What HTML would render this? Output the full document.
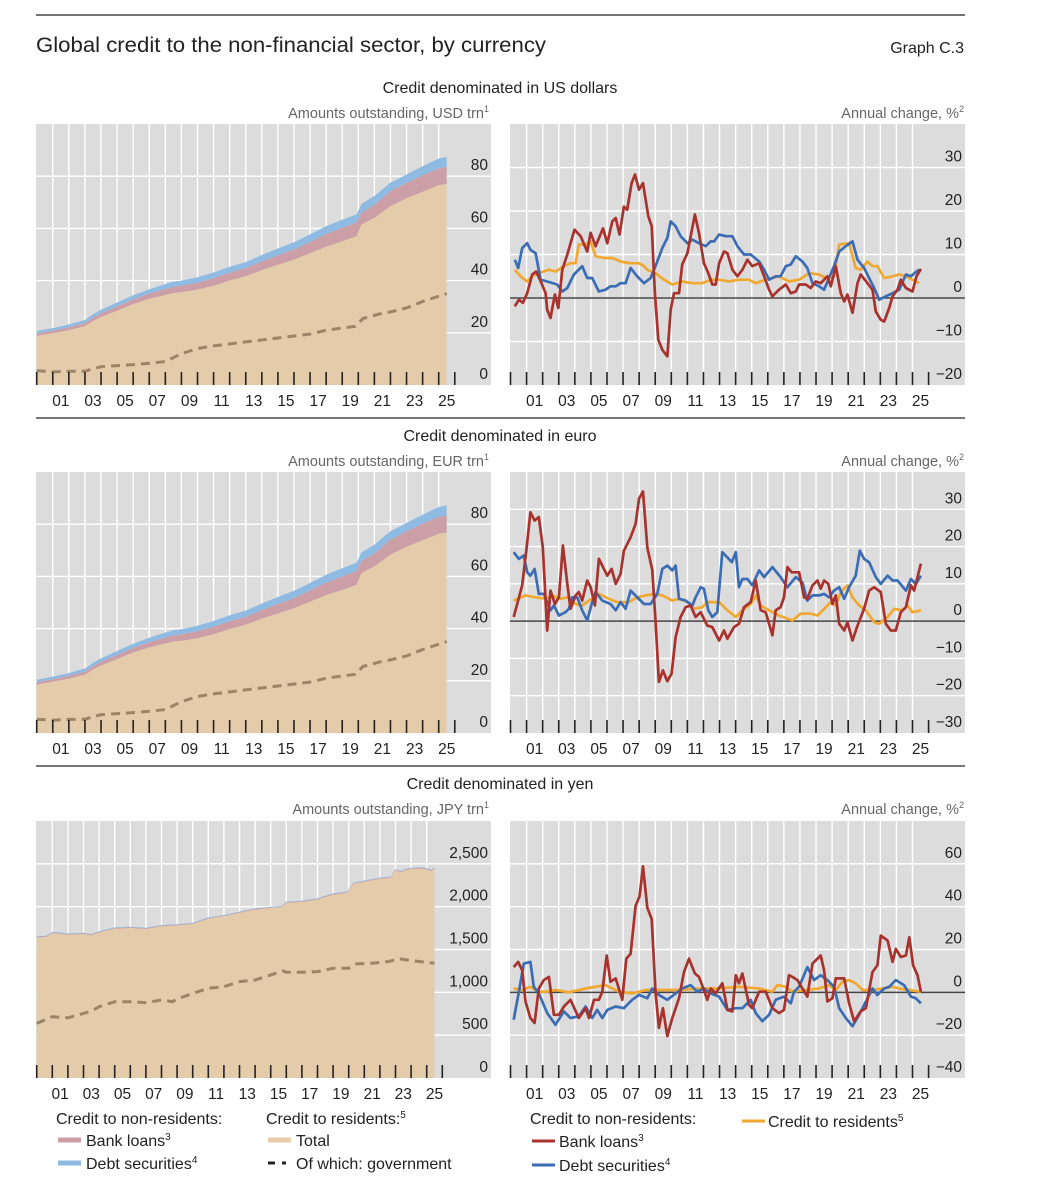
<!DOCTYPE html>
<html><head><meta charset="utf-8">
<style>
html,body{margin:0;padding:0;background:#fff;}
svg{display:block;font-family:"Liberation Sans",sans-serif;}
.nar{font-family:"Liberation Sans Narrow","Liberation Sans",sans-serif;}
</style></head>
<body>
<svg id="chart" width="1037" height="1189" viewBox="0 0 1037 1189" xmlns="http://www.w3.org/2000/svg">
<line x1="36" y1="15" x2="965" y2="15" stroke="#222" stroke-width="1.2"/>
<text x="36" y="52" font-size="21.5" fill="#222" textLength="510" lengthAdjust="spacingAndGlyphs">Global credit to the non-financial sector, by currency</text>
<text x="964" y="53" font-size="16" fill="#222" text-anchor="end">Graph C.3</text>

<text class="nar" x="500" y="93" font-size="16" fill="#222" text-anchor="middle">Credit denominated in US dollars</text>
<text class="nar" x="489" y="118" font-size="14.5" fill="#666" text-anchor="end">Amounts outstanding, USD trn<tspan font-size="9" dy="-6">1</tspan></text>
<text class="nar" x="964" y="118" font-size="14.5" fill="#666" text-anchor="end">Annual change, %<tspan font-size="9" dy="-6">2</tspan></text>
<line x1="36" y1="418" x2="965" y2="418" stroke="#777" stroke-width="2"/>

<text class="nar" x="500" y="441" font-size="16" fill="#222" text-anchor="middle">Credit denominated in euro</text>
<text class="nar" x="489" y="466" font-size="14.5" fill="#666" text-anchor="end">Amounts outstanding, EUR trn<tspan font-size="9" dy="-6">1</tspan></text>
<text class="nar" x="964" y="466" font-size="14.5" fill="#666" text-anchor="end">Annual change, %<tspan font-size="9" dy="-6">2</tspan></text>
<line x1="36" y1="766" x2="965" y2="766" stroke="#777" stroke-width="2"/>

<text class="nar" x="500" y="789" font-size="16" fill="#222" text-anchor="middle">Credit denominated in yen</text>
<text class="nar" x="489" y="814" font-size="14.5" fill="#666" text-anchor="end">Amounts outstanding, JPY trn<tspan font-size="9" dy="-6">1</tspan></text>
<text class="nar" x="964" y="814" font-size="14.5" fill="#666" text-anchor="end">Annual change, %<tspan font-size="9" dy="-6">2</tspan></text>

<g id="panels"></g>

<g font-size="16" fill="#222">
<text x="56" y="1124">Credit to non-residents:</text>
<line x1="58" y1="1140" x2="81" y2="1140" stroke="#cc9ea6" stroke-width="5"/>
<text x="86" y="1146">Bank loans<tspan font-size="10" dy="-6">3</tspan></text>
<line x1="58" y1="1163" x2="81" y2="1163" stroke="#8fbbe3" stroke-width="5"/>
<text x="86" y="1169">Debt securities<tspan font-size="10" dy="-6">4</tspan></text>
<text x="266" y="1124">Credit to residents:<tspan font-size="10" dy="-6">5</tspan></text>
<line x1="268" y1="1140" x2="291" y2="1140" stroke="#e8cda8" stroke-width="5"/>
<text x="296" y="1146">Total</text>
<line x1="268" y1="1163" x2="292" y2="1163" stroke="#222" stroke-width="3" stroke-dasharray="7,7,4,20"/>
<text x="296" y="1169">Of which: government</text>
</g>
<g font-size="16" fill="#222">
<text x="530" y="1124">Credit to non-residents:</text>
<line x1="532" y1="1141" x2="555" y2="1141" stroke="#a8322d" stroke-width="3"/>
<text x="559" y="1147">Bank loans<tspan font-size="10" dy="-6">3</tspan></text>
<line x1="532" y1="1165" x2="555" y2="1165" stroke="#3a6db5" stroke-width="3"/>
<text x="559" y="1171">Debt securities<tspan font-size="10" dy="-6">4</tspan></text>
<line x1="742" y1="1121" x2="765" y2="1121" stroke="#f0a830" stroke-width="3"/>
<text x="768" y="1127">Credit to residents<tspan font-size="10" dy="-6">5</tspan></text>
</g>
</svg>
<script>
// ---- Data (years as offset from 2000) ----
const usdYears = [0,1,2,3,3.5,4,5,6,7,8,8.5,9,10,11,12,13,14,15,16,17,18,19,19.9,20.2,21,22,22.5,23,24,25,25.5];
const usdTotal = [18.8,19.8,21,22.5,24.5,26,28.5,31,33,34.5,35.2,35.5,36.5,38,40,41.7,44,46,48,50.5,53,55,57,61.5,64,68.5,70,71.5,74,76.5,77];
const usdBank  = [0.9,1,1.1,1.2,1.3,1.4,1.6,1.8,2,2.3,2.4,2.5,2.7,2.9,3,3,3.3,3.6,3.9,4.3,4.8,5.2,5.3,4.5,5,5.8,5.8,6,6.3,6.5,6.5];
const usdDebt  = [1,1,1.1,1.2,1.3,1.4,1.5,1.6,1.7,1.9,2,2,2.1,2.2,2.3,2.4,2.5,2.7,2.8,2.9,3,3.1,3.1,3.4,3.4,3.3,3.2,3.2,3.5,3.8,3.9];
const usdGovYears = [0,1,2,3,3.5,4,6,7,8,9,10,11,13,15,17,18,19.8,20.3,21.5,22,23,24,25.5];
const usdGov = [5.5,5,5.3,5.3,6.2,7,7.8,8.3,9,12,14,15,16.5,18,19.5,21,22.5,25.5,27.5,28,29.5,32,35];

const eurYears = [0,1,2,3,3.5,4,5,6,7,8,8.5,9,10,11,12,13,14,15,16,17,18,19,19.9,20.2,21,22,22.5,23,24,25,25.5];
const eurTotal = [18.5,19.6,20.8,22.3,24.3,25.8,28.3,30.8,32.8,34.3,35,35.3,36.3,37.8,39.8,41.5,43.8,45.8,47.8,50.3,52.8,54.8,56.8,61.3,63.8,68.3,69.8,71.3,73.8,76.3,76.8];
const eurBank  = [0.9,1,1.1,1.2,1.3,1.4,1.6,1.8,2,2.3,2.4,2.5,2.7,2.9,3,3,3.3,3.6,3.9,4.3,4.8,5.2,5.3,4.5,5,5.8,5.8,6,6.3,6.5,6.5];
const eurDebt  = [1,1,1.1,1.2,1.3,1.4,1.5,1.6,1.7,1.9,2,2,2.1,2.2,2.3,2.4,2.5,2.7,2.8,2.9,3,3.1,3.1,3.4,3.4,3.3,3.2,3.2,3.5,3.8,3.9];
const eurGovYears = [0,1,2,3,3.5,4,6,7,8,9,10,11,13,15,17,18,19.8,20.3,21.5,22,23,24,25.5];
const eurGov = [5.3,4.9,5.2,5.3,6.2,7,7.8,8.3,9,12,14,15,16.5,18,19.5,21,22.5,25.5,27.5,28,29.5,32,35];

const jpyYears = [0,0.6,1,2,3,3.5,4,5,6,7,8,9,10,11,12,13,14,15,15.7,16,17,18,19,19.9,20.3,21,22,22.7,23,23.4,23.7,24.5,25,25.3,25.5];
const jpyTotal = [1640,1645,1691,1672,1680,1664,1699,1742,1750,1738,1769,1781,1797,1859,1887,1926,1965,1984,1992,2043,2055,2082,2140,2160,2265,2289,2324,2336,2422,2402,2433,2445,2433,2414,2441];
const jpyBank  = [8,8,8,8,8,8,8,8,8,8,8,8,8,8,8,8,8,8,8,8,8,8,8,8,8,8,8,8,8,8,8,9,9,9,9];
const jpyDebt  = [8,8,8,8,8,8,8,8,8,8,8,8,8,8,8,8,8,8,8,8,8,8,8,8,8,8,8,8,8,8,8,8,8,8,8];
const jpyGovYears = [0,1,2,3,3.5,4,5,6,7,8,8.7,9,10,11,12,13,14,15,15.8,16,17,18,19,20,20.5,21.5,22.5,23.3,24,25.5];
const jpyGov = [637,715,703,754,781,832,891,891,879,910,891,922,988,1047,1066,1125,1144,1203,1250,1234,1234,1242,1281,1281,1332,1340,1359,1390,1370,1340];

const usdBankChgYears = [0.27,0.52,0.77,1.04,1.35,1.6,1.93,2.18,2.28,2.49,2.76,2.97,3.22,3.53,3.98,4.36,4.77,4.98,5.29,5.75,6.02,6.33,6.54,6.78,7.05,7.26,7.53,7.74,7.99,8.24,8.57,8.78,8.98,9.19,9.44,9.75,9.96,10.17,10.48,10.68,11,11.47,11.72,12.03,12.3,12.55,12.76,12.97,13.28,13.49,13.8,14.11,14.42,14.73,15.04,15.46,15.77,16.08,16.29,16.7,17.12,17.43,17.74,17.95,18.36,18.67,18.98,19.29,19.71,19.92,20.23,20.54,20.75,20.95,21.27,21.58,21.78,22.2,22.51,22.72,23.03,23.24,23.55,23.76,24.07,24.27,24.59,25,25.25,25.52];
const usdBankChg = [-1.9,-0.4,-1.1,1.1,5.4,6.1,3.4,1.1,-2.7,-4.6,0.8,-2.3,6.5,10,15.7,14.2,10.7,15,11.9,16,12.6,17.6,18.4,14.6,21,20.3,26.4,28.4,24.9,26.4,18.8,16.5,1.1,-9.6,-11.9,-13.4,-2.7,1.1,1.1,7.7,10.3,19.2,14.9,8,5.7,3.1,3.1,8,10.7,10.3,6.5,5,6.5,8.8,7.3,8,5,1.9,0.4,1.9,3.1,1.1,1.5,3.1,3.1,2.3,3.8,3.4,5,2.7,7.3,1.1,-0.8,0.8,-3.4,3.4,5.4,3.4,1.9,-3.1,-5,-5.4,-2.3,0.4,1.9,4.2,2.3,1.5,5,6.7];
const usdDebtChgYears = [0.27,0.48,0.73,1.04,1.24,1.56,1.87,2.28,2.9,3.22,3.53,3.94,4.46,4.77,5.08,5.5,5.91,6.22,6.54,6.85,7.16,7.47,7.88,8.3,8.71,9.02,9.44,9.75,9.96,10.27,10.58,11,11.31,11.72,12.14,12.45,12.66,12.97,13.38,13.8,14.11,14.52,14.94,15.46,15.77,16.08,16.49,16.8,17.12,17.43,17.74,18.15,18.46,18.78,19.19,19.5,19.81,20.12,20.44,20.85,21.27,21.58,21.99,22.3,22.61,22.93,23.34,23.76,24.17,24.59,24.9,25.25,25.41];
const usdDebtChg = [8.8,6.9,11.5,12.6,11.1,10.3,4.2,3.8,3.1,1.5,2.3,5.4,7.3,4.6,4.6,1.5,1.9,2.7,2.7,3.4,3.4,6.9,5,3.4,4.6,7.3,11.5,13.8,17.6,16.5,14.2,12.6,13.4,12.6,11.9,13,13,14.6,14.2,14.2,11.9,10,10,8.4,6.5,4.2,5,5,7.3,7.7,9.6,8.4,6.9,3.4,2.7,1.9,4.6,7.3,10.7,11.9,13,8.8,6.9,4.6,2.3,-0.4,0.4,1.1,1.9,5.4,5,6.1,6.5];
const usdResChgYears = [0.27,0.62,1.04,1.35,1.76,2.39,2.8,3.32,3.73,4.05,4.25,4.67,4.98,5.29,5.81,6.33,6.85,7.37,7.99,8.3,8.51,9.02,9.54,10.06,10.68,11.31,11.93,12.45,12.97,13.59,14.21,14.83,15.25,15.87,16.7,17.32,17.95,18.57,19.19,19.61,20.12,20.44,21.06,21.47,21.78,22.2,22.51,22.82,23.24,23.76,24.17,24.59,25,25.41];
const usdResChg = [6.5,5,3.8,5,5.7,6.5,6.1,7.3,8,8,12.3,12.3,13,9.6,9.2,9.2,8.4,8,8,7.3,6.5,5.7,4.2,3.1,3.8,3.4,3.4,4.2,4.2,3.8,4.2,4.2,3.4,4.2,5,3.8,4.2,5.7,5.4,4.6,5,12.3,12.6,6.9,6.5,8.4,7.3,7.3,4.6,5,5.4,5,4.2,3.4];

const eurBankChgYears = [0.2,0.73,0.98,1.24,1.5,1.76,2.01,2.28,2.49,2.76,3.01,3.26,3.53,3.73,4.05,4.25,4.46,4.77,4.98,5.25,5.5,6.02,6.29,6.54,6.85,7.05,7.47,7.78,7.99,8.24,8.51,8.82,9.02,9.23,9.48,9.75,10.02,10.27,10.58,10.89,11.2,11.51,11.83,12.24,12.55,12.97,13.28,13.49,13.9,14.21,14.52,14.94,15.25,15.56,15.87,16.29,16.49,16.8,17.01,17.22,17.49,17.95,18.26,18.46,18.78,19.09,19.29,19.5,19.77,20.02,20.23,20.44,20.75,20.95,21.27,21.58,21.99,22.3,22.61,23.03,23.34,23.65,23.96,24.27,24.59,24.9,25.1,25.52];
const eurBankChg = [1.1,9.6,18.9,29.2,27,27.9,19.8,-2.5,8.2,4.6,6.4,20.3,10,3.3,6.9,7.8,5.5,10.9,9.1,4.2,16.7,12.2,14,10,12.7,18.9,22.5,26.1,32.8,34.8,19.8,13.6,0.2,-16.3,-13.2,-16.1,-14.1,-4.3,1.1,3.75,4.2,1.1,2.4,-1.2,-1.6,-5.2,-2.5,-4.7,-1.6,-0.7,3.75,5.1,10.9,2.9,2.4,-3.8,2.9,3.75,6.4,14.5,13.1,13.1,6.4,6,9.6,10.9,8.7,10.9,10,4.6,6.9,-0.7,-2.5,-0.3,-5.2,-1.2,3.3,8.2,9.1,7.8,-0.7,-2.5,-2.5,2.4,3.75,9.6,8.2,15.4];
const eurDebtChgYears = [0.2,0.52,0.83,1.04,1.24,1.5,1.76,2.07,2.49,2.7,3.01,3.42,3.63,3.84,4.15,4.46,4.77,5.08,5.29,5.71,6.22,6.54,6.85,7.16,7.47,7.88,8.3,8.71,9.13,9.44,9.75,10.06,10.27,10.48,10.89,11.31,11.51,11.83,12.03,12.3,12.55,12.86,13.17,13.49,13.76,14.01,14.21,14.42,14.73,15.04,15.46,15.77,16.29,16.8,17.22,17.74,18.15,18.46,18.78,19.19,19.5,19.81,20.12,20.44,20.75,21.06,21.47,21.72,21.99,22.3,22.72,23.03,23.45,23.76,24.07,24.59,24.9,25.21,25.52];
const eurDebtChg = [18.5,16.7,17.6,13.1,12.2,14,7.3,7.3,2.9,4.2,1.5,2.4,3.3,6.4,6.4,2.9,0.2,5.1,7.8,5.5,4.6,2.9,5.1,3.3,8.2,6.4,4.6,4.6,7.3,14,14.9,13.6,14.9,6,5.5,4.2,6.4,9.1,8.7,2.9,1.1,2.4,18.5,17.1,15.8,18.5,9.1,11.3,11.3,9.6,13.6,11.8,14.5,11.8,9.1,11.8,10.4,5.5,6.9,6.9,7.3,6.4,8.2,9.1,6,9.1,12.2,18.9,16.7,15.8,11.8,10,12.2,10.9,10.9,8.2,11.3,10,12.2];
const eurResChgYears = [0.2,0.93,1.56,2.18,2.59,3.11,3.53,4.05,4.46,4.88,5.5,6.12,6.64,7.37,7.88,8.4,9.02,9.44,10.06,10.48,11,11.41,11.93,12.24,12.97,13.49,14.01,14.42,14.94,15.25,15.56,16.08,16.7,17.53,18.05,18.67,19.09,19.61,19.92,20.23,20.54,20.95,21.27,21.68,22.1,22.61,22.93,23.45,23.86,24.38,24.69,25,25.52];
const eurResChg = [5.5,6.9,6.4,6,6.9,6,6.4,4.6,4.2,5.5,7.3,6,5.1,5.1,6.4,6.9,7.3,6.9,5.5,6,5.1,3.3,3.75,5.1,5.1,2.9,1.1,2.9,4.6,6.9,4.2,2.9,1.5,0.2,2,2,1.5,3.75,5.1,4.2,7.8,9.6,6.4,4.2,2.9,-0.3,-0.7,1.1,3.3,2.9,4.2,2.4,2.9];

const jpyBankChgYears = [0.2,0.48,0.73,0.93,1.24,1.5,1.76,2.07,2.39,2.7,3.01,3.32,3.73,4.25,4.67,4.88,5.19,5.5,5.71,5.98,6.22,6.54,6.95,7.2,7.47,7.78,8.03,8.24,8.51,8.78,9.02,9.23,9.48,9.75,10.06,10.48,10.79,11.1,11.47,11.72,12.03,12.24,12.45,12.76,13.17,13.49,13.8,14.01,14.21,14.42,14.83,15.04,15.46,15.87,16.29,16.7,17.01,17.32,17.53,17.84,18.15,18.46,18.78,19.29,19.5,19.71,20.02,20.23,20.75,21.06,21.37,21.78,22.1,22.51,22.82,23.03,23.45,23.76,23.96,24.27,24.59,24.8,25.04,25.31,25.52];
const jpyBankChg = [11.8,14.2,10.3,-4.3,-12,-14.3,1.8,5.7,7.2,-10.5,-10.5,-6.6,-3.5,-12,-7.4,-12,-3.5,-3.5,0.3,17.2,4.9,6.5,-3.5,15.7,18,40.3,44.9,58.8,39.5,34.2,0.3,-16.6,-7.4,-20.5,-12,-2.8,9.5,15.7,8.8,7.2,1.1,-3.5,1.8,-0.5,4.2,-8.2,-8.9,8,4.2,8.8,-5.8,-7.4,0.3,0.3,-7.4,-9.7,-8.2,8,7.2,5.7,1.8,-2,13.4,17.2,10.3,-4.3,-2.8,6.5,6.5,-5.1,-13.5,-8.9,-7.4,9.5,12.6,26.5,24.2,14.2,20.3,16.5,17.2,25.7,12.6,8,0.3];
const jpyDebtChgYears = [0.2,0.52,0.83,1.24,1.45,1.76,2.28,2.8,3.32,3.73,4.25,4.67,5.08,5.39,5.71,6.02,6.54,7.05,7.57,7.99,8.51,8.82,9.23,9.75,10.27,10.68,11.2,11.62,12.03,12.45,12.97,13.49,14.01,14.42,14.94,15.25,15.66,16.08,16.49,17.01,17.43,17.63,17.95,18.46,18.88,19.29,19.71,20.12,20.44,20.85,21.27,21.68,22.1,22.51,22.82,23.24,23.55,23.96,24.48,24.9,25.21,25.52];
const jpyDebtChg = [-12.8,0.3,13.4,14.2,2.6,-0.5,-9.7,-15.1,-8.9,-12,-11.2,-6.6,-12,-8.2,-12,-8.2,-6.6,-7.4,-3.5,-1.2,-2.8,1.8,-1.2,-3.5,-0.5,1.8,3.4,0.3,1.8,-0.5,-2,-8.2,-7.4,-7.4,-3.5,-9.7,-13.5,-10.5,-3.5,-2,-5.1,0.3,2.6,11.8,5.7,8,5.7,2.6,-7.4,-12,-15.8,-10.5,-4.3,1.8,-1.2,1.8,2.6,5.7,3.4,-2,-2.8,-5.1];
const jpyResChgYears = [0.2,0.73,1.24,1.76,2.28,2.8,3.63,4.67,5.91,6.74,7.57,8.4,9.44,10.48,11.72,12.97,14.21,15.46,16.29,16.6,17.12,17.53,18.36,19.19,19.81,20.23,20.64,21.06,21.47,21.89,22.51,23.14,23.76,24.17,24.79,25.52];
const jpyResChg = [1.8,1.1,2.6,0.3,0.3,1.1,0,1.8,3.4,0.3,-0.5,1.1,1.1,1.1,1.8,1.8,2.6,1.8,0.3,3.4,2.6,0.3,1.1,1.8,3.4,1.1,4.9,5.7,4.2,1.1,1.1,1.8,2.6,1.8,1.1,0.3];

const leftTicksUsd = [0,20,40,60,80];
const rightTicksUsd = [-20,-10,0,10,20,30];
const leftTicksEur = [0,20,40,60,80];
const rightTicksEur = [-30,-20,-10,0,10,20,30];
const leftTicksJpy = [0,500,1000,1500,2000,2500];
const rightTicksJpy = [-40,-20,0,20,40,60];
const yearLabels = ['01','03','05','07','09','11','13','15','17','19','21','23','25'];

const NS = 'http://www.w3.org/2000/svg';
const root = document.getElementById('panels');
function mk(tag, attrs, parent){
  const e = document.createElementNS(NS, tag);
  for (const k in attrs) e.setAttribute(k, attrs[k]);
  (parent||root).appendChild(e);
  return e;
}
function fmt(v){
  let s = Math.abs(v).toString().replace(/\B(?=(\d{3})+(?!\d))/g, ',');
  return (v<0?'\u2212':'') + s;
}
function panel(c){
  const g = mk('g', {});
  
  
  const X = t => c.x0 + t*c.yw;
  const Y = v => c.bot - (v - c.min)/(c.max - c.min)*(c.bot - c.top);
  const bg = mk('rect', {x:c.bgL, y:c.top, width:c.bgR-c.bgL, height:c.bot-c.top, fill:'#dcdcdc'}, g);
  
  
  for (let yr=1; yr<=25; yr++){
    const l = mk('line', {x1:X(yr), x2:X(yr), y1:c.top, y2:c.bot, stroke:'#fff', 'stroke-width':1.4}, g);
    
    
  }
  c.ticks.forEach(v => {
    if (v !== c.min) {
      const l = mk('line', {x1:c.bgL, x2:c.bgR, y1:Y(v), y2:Y(v), stroke:'#fff', 'stroke-width':1.4}, g);
      
      
    }
    const t = mk('text', {x:c.bgR-3, y:Y(v)-6, 'font-size':15.5, fill:'#222', 'text-anchor':'end'}, g);
    t.textContent = fmt(v);
    
    
  });
  return {g, X, Y};
}
function ticksAndLabels(p, c){
  for (let yr=0; yr<=26; yr++){
    const l = mk('line', {x1:p.X(yr), x2:p.X(yr), y1:c.bot-13, y2:c.bot, stroke:'#222', 'stroke-width':1.6}, p.g);
    
    
  }
  yearLabels.forEach((s,i) => {
    const t = mk('text', {x:p.X(1+2*i+0.5), y:c.bot+21, 'font-size':15.5, fill:'#222', 'text-anchor':'middle'}, p.g);
    t.textContent = s;
    
    
  });
}
function stackArea(p, c, years, total, bank, debt, govYears, gov){
  const lo = [], mid = [], hi = [];
  years.forEach((t,i) => {
    lo.push(total[i]); mid.push(total[i]+bank[i]); hi.push(total[i]+bank[i]+debt[i]);
  });
  function band(low, high, color, name){
    let d = '';
    years.forEach((t,i)=>{ d += (i?'L':'M') + p.X(t).toFixed(1) + ',' + p.Y(high[i]).toFixed(1); });
    for (let i=years.length-1;i>=0;i--) d += 'L' + p.X(years[i]).toFixed(1) + ',' + p.Y(low ? low[i] : c.min).toFixed(1);
    const e = mk('path', {d: d+'Z', fill: color}, p.g);
    
    
  }
  band(mid, hi, '#8fbbe3', 'debt-securities-area');
  band(lo, mid, '#cc9ea6', 'bank-loans-area');
  band(null, lo, '#e4cba9', 'residents-total-area');
  let d = '';
  govYears.forEach((t,i)=>{ d += (i?'L':'M') + p.X(t).toFixed(1) + ',' + p.Y(gov[i]).toFixed(1); });
  const e = mk('path', {d, fill:'none', stroke:'#9c8468', 'stroke-width':3, 'stroke-dasharray':'9,6'}, p.g);
  
  
}
function line(p, years, vals, color, name){
  let d = '';
  years.forEach((t,i)=>{ d += (i?'L':'M') + p.X(t).toFixed(1) + ',' + p.Y(vals[i]).toFixed(1); });
  const e = mk('path', {d, fill:'none', stroke:color, 'stroke-width':2.7, 'stroke-linejoin':'round'}, p.g);
  
  
}
function zeroLine(p, c){
  const l = mk('line', {x1:c.bgL, x2:c.bgR, y1:p.Y(0), y2:p.Y(0), stroke:'#444', 'stroke-width':1.5}, p.g);
  
  
}

// USD
let c = {name:'usd-amounts-panel', x0:36.7, yw:16.08, bgL:36, bgR:491, top:124, bot:385, min:0, max:100, ticks:leftTicksUsd};
let p = panel(c);
stackArea(p, c, usdYears, usdTotal, usdBank, usdDebt, usdGovYears, usdGov);
ticksAndLabels(p, c);
c = {name:'usd-change-panel', x0:510.5, yw:16.08, bgL:510, bgR:965, top:124, bot:385, min:-20, max:40, ticks:rightTicksUsd};
p = panel(c);
zeroLine(p, c);
line(p, usdResChgYears, usdResChg, '#f0a830', 'residents-change-line');
line(p, usdDebtChgYears, usdDebtChg, '#3a6db5', 'debt-securities-change-line');
line(p, usdBankChgYears, usdBankChg, '#a8322d', 'bank-loans-change-line');
ticksAndLabels(p, c);

// EUR
c = {name:'eur-amounts-panel', x0:36.7, yw:16.08, bgL:36, bgR:491, top:472, bot:733, min:0, max:100, ticks:leftTicksEur};
p = panel(c);
stackArea(p, c, eurYears, eurTotal, eurBank, eurDebt, eurGovYears, eurGov);
ticksAndLabels(p, c);
c = {name:'eur-change-panel', x0:510.5, yw:16.08, bgL:510, bgR:965, top:472, bot:733, min:-30, max:40, ticks:rightTicksEur};
p = panel(c);
zeroLine(p, c);
line(p, eurResChgYears, eurResChg, '#f0a830', 'residents-change-line');
line(p, eurDebtChgYears, eurDebtChg, '#3a6db5', 'debt-securities-change-line');
line(p, eurBankChgYears, eurBankChg, '#a8322d', 'bank-loans-change-line');
ticksAndLabels(p, c);

// JPY
c = {name:'jpy-amounts-panel', x0:36.7, yw:15.6, bgL:36, bgR:491, top:821, bot:1078, min:0, max:3000, ticks:leftTicksJpy};
p = panel(c);
stackArea(p, c, jpyYears, jpyTotal, jpyBank, jpyDebt, jpyGovYears, jpyGov);
ticksAndLabels(p, c);
c = {name:'jpy-change-panel', x0:510.5, yw:16.08, bgL:510, bgR:965, top:821, bot:1078, min:-40, max:80, ticks:rightTicksJpy};
p = panel(c);
zeroLine(p, c);
line(p, jpyResChgYears, jpyResChg, '#f0a830', 'residents-change-line');
line(p, jpyDebtChgYears, jpyDebtChg, '#3a6db5', 'debt-securities-change-line');
line(p, jpyBankChgYears, jpyBankChg, '#a8322d', 'bank-loans-change-line');
ticksAndLabels(p, c);
</script>
</body></html>
